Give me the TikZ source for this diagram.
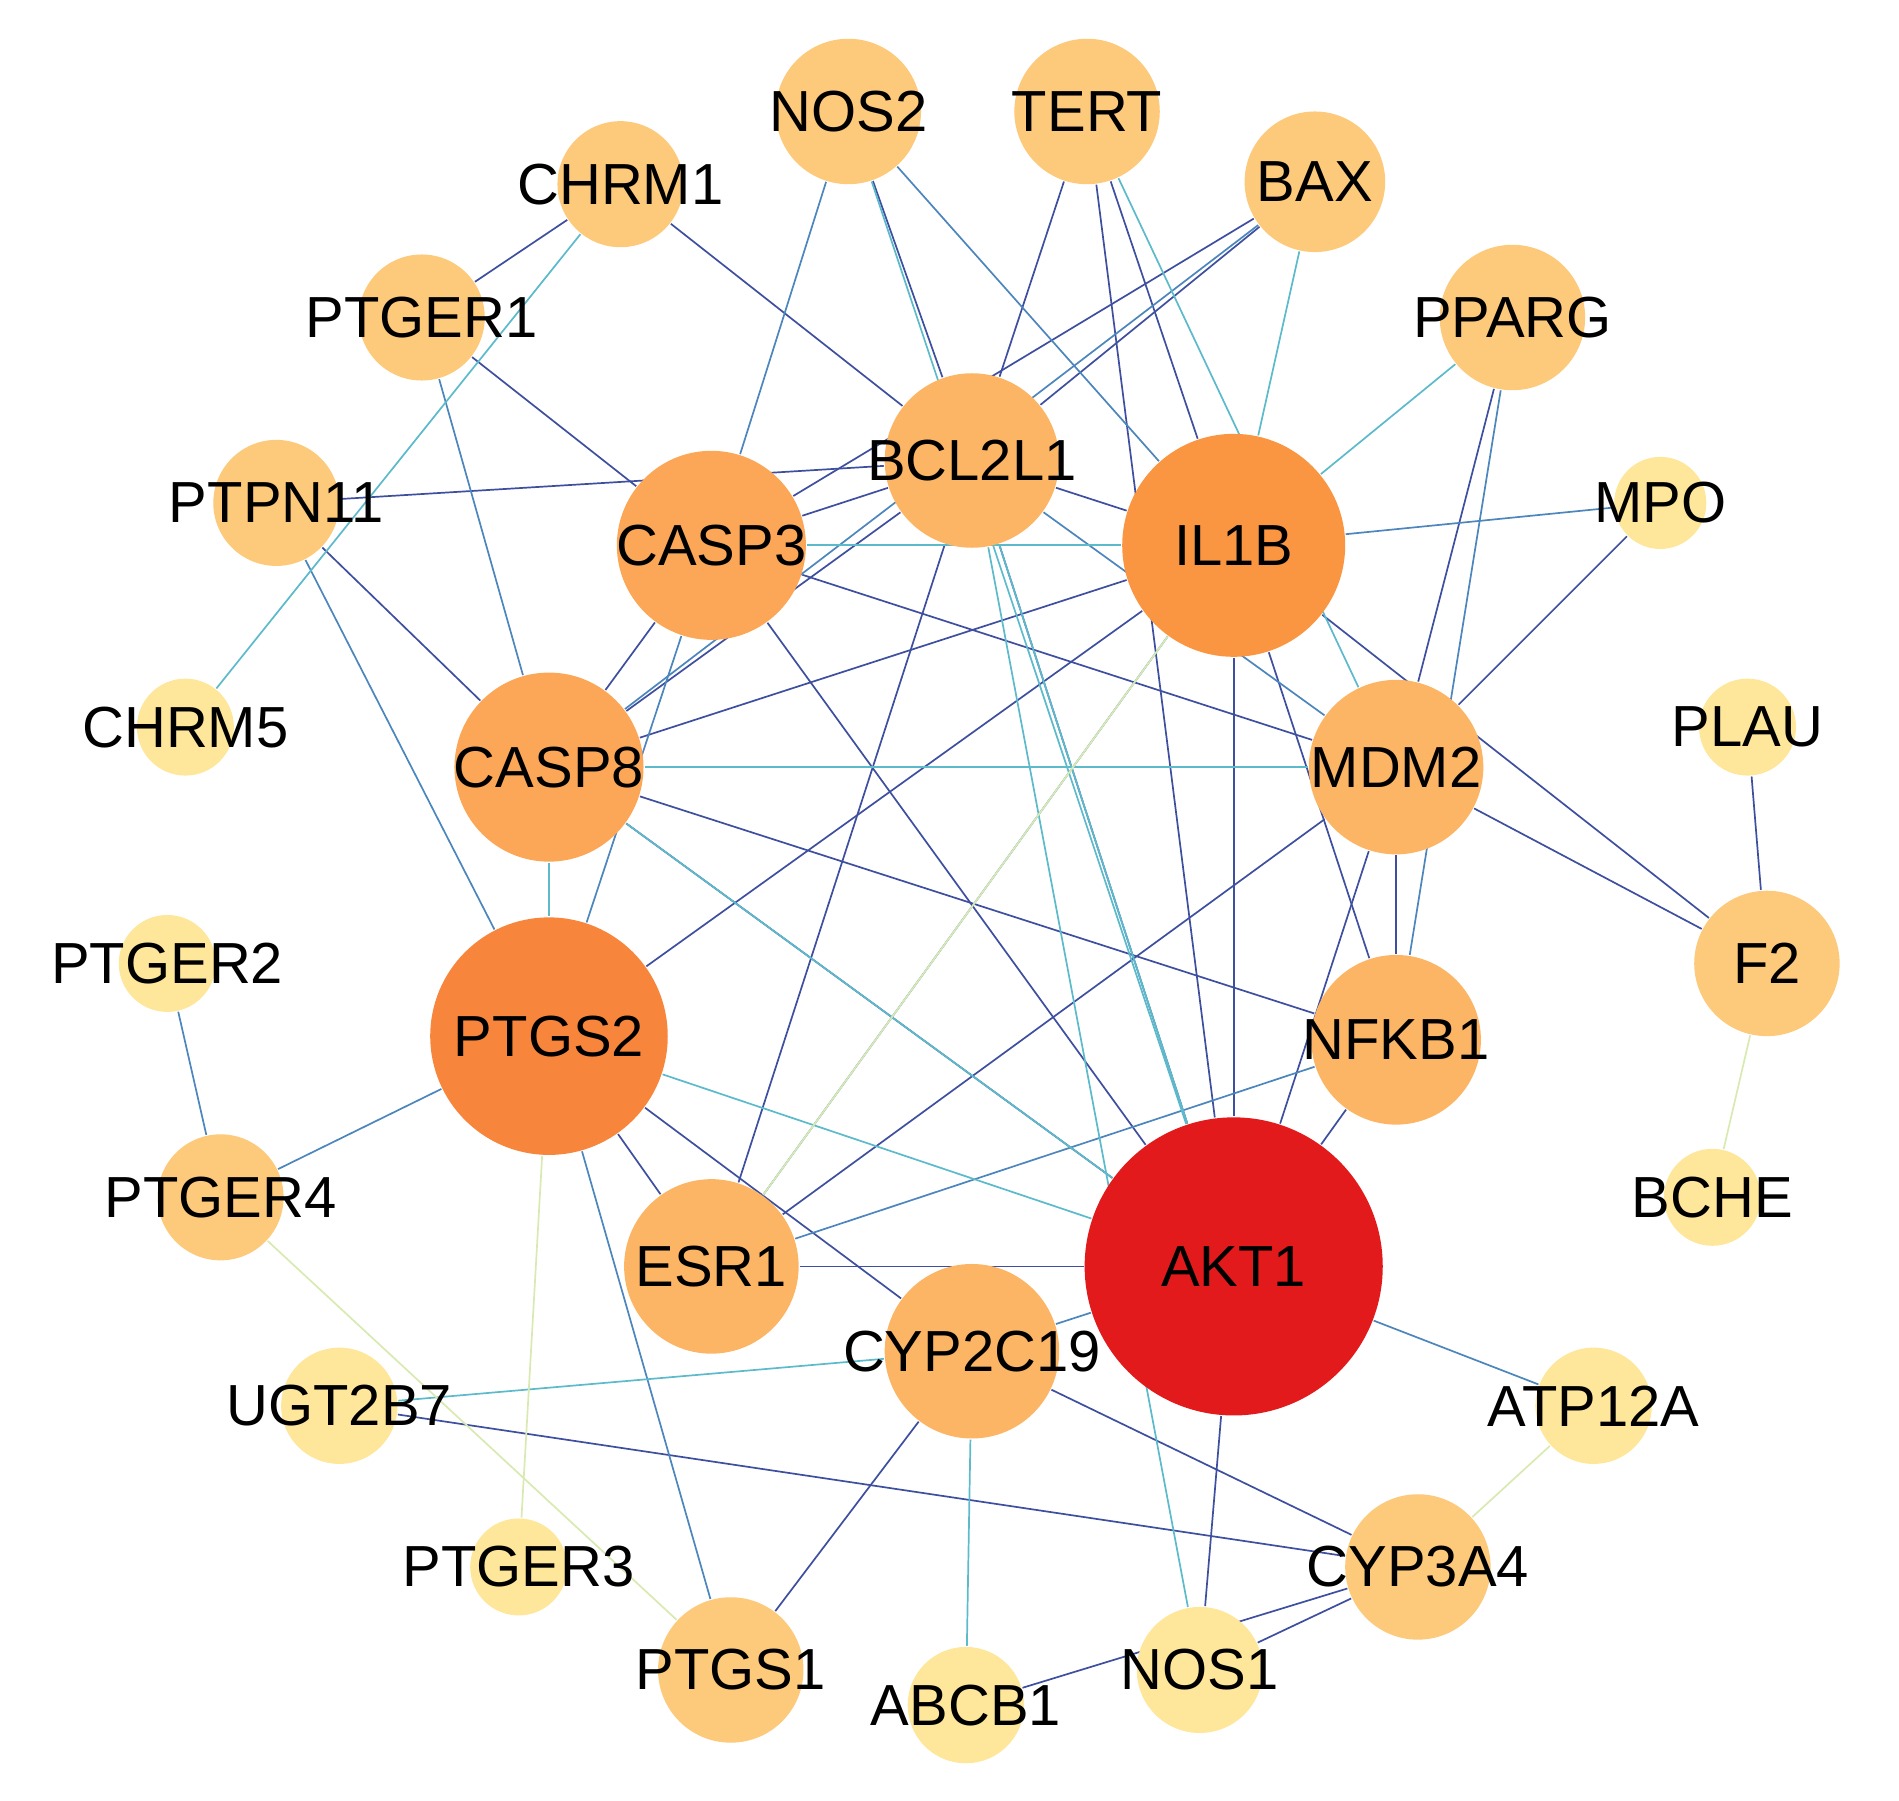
\documentclass[tikz,border=0pt]{standalone}
\usepackage{fontspec}
\setmainfont{Liberation Sans}
\usetikzlibrary{backgrounds}
\definecolor{cR}{HTML}{E31A1C}
\definecolor{cA}{HTML}{F7853C}
\definecolor{cB}{HTML}{FA9542}
\definecolor{cC}{HTML}{FBA757}
\definecolor{cD}{HTML}{FCB565}
\definecolor{cE}{HTML}{FDC97A}
\definecolor{cF}{HTML}{FEE69A}
\definecolor{eD}{HTML}{3E4FA0}
\definecolor{eM}{HTML}{4C86BC}
\definecolor{eL}{HTML}{5CBACB}
\definecolor{eP}{HTML}{D9E9B2}
\newcommand\gn[6]{\node[circle,fill=#5,inner sep=0pt,minimum size=#4*2*0.01cm] (#1) at (#2,#3) {};
  \node[font=\fontsize{13.6}{16}\selectfont] at (#2,#3) {#6};}
\begin{document}
\begin{tikzpicture}[x=0.01cm,y=-0.01cm,line width=0.5pt]
\useasboundingbox (0,0) rectangle (1567,1486);
\gn{NOS2}{700}{92}{60}{cE}{NOS2}
\gn{TERT}{897}{92}{60}{cE}{TERT}
\gn{BAX}{1085}{150}{58}{cE}{BAX}
\gn{CHRM1}{512}{152}{52}{cE}{CHRM1}
\gn{PTGER1}{348}{262}{52}{cE}{PTGER1}
\gn{PPARG}{1248}{262}{60}{cE}{PPARG}
\gn{BCL2L1}{802}{380}{72}{cD}{BCL2L1}
\gn{PTPN11}{228}{415}{52}{cE}{PTPN11}
\gn{CASP3}{587}{450}{78}{cC}{CASP3}
\gn{IL1B}{1018}{450}{92}{cB}{IL1B}
\gn{MPO}{1370}{415}{38}{cF}{MPO}
\gn{CHRM5}{153}{600}{40}{cF}{CHRM5}
\gn{CASP8}{453}{633}{78}{cC}{CASP8}
\gn{MDM2}{1152}{633}{72}{cD}{MDM2}
\gn{PLAU}{1442}{600}{40}{cF}{PLAU}
\gn{F2}{1458}{795}{60}{cE}{F2}
\gn{PTGER2}{138}{795}{40}{cF}{PTGER2}
\gn{PTGS2}{453}{855}{98}{cA}{PTGS2}
\gn{NFKB1}{1152}{858}{70}{cD}{NFKB1}
\gn{PTGER4}{182}{988}{52}{cE}{PTGER4}
\gn{BCHE}{1413}{988}{40}{cF}{BCHE}
\gn{ESR1}{587}{1045}{72}{cD}{ESR1}
\gn{AKT1}{1018}{1045}{123}{cR}{AKT1}
\gn{CYP2C19}{802}{1115}{72}{cD}{CYP2C19}
\gn{UGT2B7}{280}{1160}{48}{cF}{UGT2B7}
\gn{ATP12A}{1315}{1160}{48}{cF}{ATP12A}
\gn{PTGER3}{428}{1293}{40}{cF}{PTGER3}
\gn{CYP3A4}{1170}{1293}{60}{cE}{CYP3A4}
\gn{PTGS1}{603}{1378}{60}{cE}{PTGS1}
\gn{ABCB1}{797}{1407}{48}{cF}{ABCB1}
\gn{NOS1}{990}{1378}{52}{cF}{NOS1}
\begin{scope}[on background layer]
\foreach \a/\b in {CHRM1/PTGER1,CHRM1/BCL2L1,PTGER1/CASP3,PTPN11/BCL2L1,PTPN11/CASP8,
  NOS2/BCL2L1,TERT/IL1B,TERT/AKT1,TERT/BCL2L1,BAX/BCL2L1,BAX/CASP3,PPARG/MDM2,MPO/MDM2,PLAU/F2,F2/MDM2,F2/IL1B,
  UGT2B7/CYP3A4,PTGS1/CYP2C19,NOS1/CYP3A4,ABCB1/CYP3A4,AKT1/IL1B,AKT1/MDM2,AKT1/NFKB1,AKT1/CASP3,AKT1/CASP8,
  AKT1/BCL2L1,IL1B/CASP8,IL1B/PTGS2,IL1B/NFKB1,CASP3/CASP8,CASP3/BCL2L1,CASP3/MDM2,CASP8/BCL2L1,CASP8/NFKB1,
  MDM2/NFKB1,ESR1/MDM2,ESR1/BCL2L1,ESR1/AKT1,PTGS2/ESR1,PTGS2/CYP2C19,IL1B/BCL2L1,CYP2C19/CYP3A4,AKT1/NOS1}
  \draw[eD] (\a) -- (\b);
\foreach \a/\b in {PTGER1/CASP8,PTPN11/PTGS2,NOS2/CASP3,NOS2/IL1B,BAX/CASP8,PPARG/NFKB1,MPO/IL1B,PTGER2/PTGER4,
  PTGER4/PTGS2,PTGS1/PTGS2,CASP3/PTGS2,ESR1/NFKB1,ESR1/IL1B,MDM2/BCL2L1,CYP2C19/AKT1,ATP12A/AKT1}
  \draw[eM] (\a) -- (\b);
\foreach \a/\b in {CHRM1/CHRM5,TERT/MDM2,BAX/IL1B,PPARG/IL1B,NOS2/AKT1,CASP8/MDM2,CASP3/IL1B,CASP8/PTGS2,
  UGT2B7/CYP2C19,ABCB1/CYP2C19,NOS1/BCL2L1,PTGS2/AKT1,CASP8/AKT1,BCL2L1/AKT1}
  \draw[eL] (\a) -- (\b);
\foreach \a/\b in {F2/BCHE,PTGER4/PTGS1,PTGER3/PTGS2,ATP12A/CYP3A4,ESR1/IL1B}
  \draw[eP] (\a) -- (\b);
\end{scope}
\end{tikzpicture}
\end{document}
